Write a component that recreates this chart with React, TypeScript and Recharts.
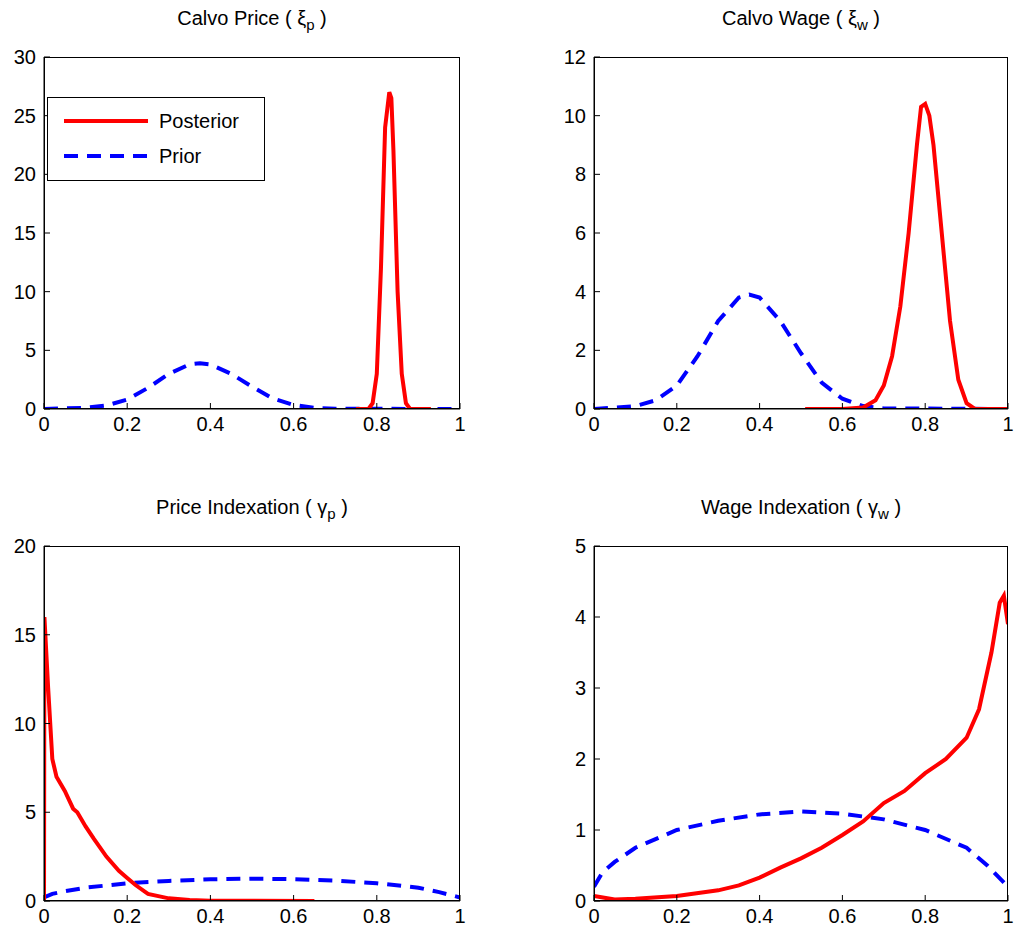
import React from "react";
import { LineChart, Line, XAxis, YAxis } from "recharts";

const xTicks = [0, 0.2, 0.4, 0.6, 0.8, 1];
const xTickLabels = ["0", "0.2", "0.4", "0.6", "0.8", "1"];

const priorCalvoX = [0, 0.1, 0.15, 0.2, 0.25, 0.3, 0.35, 0.375, 0.4, 0.45, 0.5, 0.55, 0.6, 0.65, 0.7, 1];
const priorCalvoY = [0, 0.1, 0.3, 0.8, 1.8, 3.0, 3.8, 3.9, 3.8, 3.0, 1.9, 0.9, 0.35, 0.1, 0.02, 0];

const postPriceX = [0.75, 0.78, 0.79, 0.8, 0.81, 0.82, 0.83, 0.835, 0.84, 0.85, 0.86, 0.87, 0.88, 0.93];
const postPriceY = [0, 0, 0.5, 3, 12, 24, 27, 26.5, 22, 10, 3, 0.5, 0, 0];

const postWageX = [0.51, 0.6, 0.65, 0.68, 0.7, 0.72, 0.74, 0.76, 0.78, 0.79, 0.8, 0.81, 0.82, 0.84, 0.86, 0.88, 0.9, 0.92, 1];
const postWageY = [0, 0, 0.05, 0.3, 0.8, 1.8, 3.5, 6, 9, 10.3, 10.4, 10, 9, 6, 3, 1, 0.2, 0, 0];

const priorIndexX = [0, 0.02, 0.05, 0.1, 0.2, 0.3, 0.4, 0.5, 0.6, 0.7, 0.8, 0.9, 0.95, 1];
const priorIndexY = [0.2, 0.4, 0.55, 0.75, 1.0, 1.13, 1.22, 1.26, 1.23, 1.15, 1.0, 0.75, 0.5, 0.2];

const postPIndX = [0, 0.001, 0.01, 0.02, 0.03, 0.05, 0.07, 0.08, 0.1, 0.12, 0.15, 0.18, 0.2, 0.22, 0.25, 0.3, 0.35, 0.4, 0.65];
const postPIndY = [0, 16, 12, 8, 7, 6.2, 5.2, 5, 4.2, 3.5, 2.5, 1.7, 1.3, 0.9, 0.4, 0.15, 0.05, 0.02, 0];

const postWIndX = [0, 0.05, 0.1, 0.2, 0.3, 0.35, 0.4, 0.45, 0.5, 0.55, 0.6, 0.65, 0.7, 0.75, 0.8, 0.85, 0.9, 0.93, 0.96, 0.98, 0.99, 1];
const postWIndY = [0.07, 0.02, 0.03, 0.07, 0.15, 0.22, 0.33, 0.47, 0.6, 0.75, 0.93, 1.12, 1.38, 1.55, 1.8, 2.0, 2.3, 2.7, 3.5, 4.2, 4.3, 3.9];

const zip = (xs: number[], ys: number[]) => xs.map((x, i) => ({ x, y: ys[i] }));
const FONT = "'Liberation Sans', Arial, sans-serif";

function Panel(props: any) {
  const { left, top, width, height, margin, yTicks, yMax, post, prior, title, sub } = props;
  const tick = { fill: "#000", fontSize: 20, fontFamily: FONT };
  const pl = margin.left + 36;
  const pw = width - pl - margin.right;
  const ph = height - margin.top - margin.bottom - 30;
  return (
    <div style={{ position: "absolute", left, top, width, height }}>
      <div style={{ position: "absolute", left: pl, width: pw, top: margin.top - 50, textAlign: "center", fontFamily: FONT, fontSize: 20 }}>
        {title} ( <span>{sub[0]}</span><sub style={{ fontSize: 15 }}>{sub[1]}</sub> )
      </div>
      <LineChart width={width} height={height} margin={margin}>
        <XAxis xAxisId="b" type="number" dataKey="x" domain={[0, 1]} ticks={xTicks} tickFormatter={(v: number) => xTickLabels[xTicks.indexOf(v)] ?? String(v)} tick={tick} tickSize={-6} tickMargin={14} height={30} stroke="#000" interval={0} allowDataOverflow />
        <YAxis yAxisId="l" type="number" domain={[0, yMax]} ticks={yTicks} tick={tick} tickSize={-6} tickMargin={14} width={36} stroke="#000" interval={0} allowDataOverflow />
        <Line xAxisId="b" yAxisId="l" data={prior} dataKey="y" stroke="#0000ff" strokeWidth={4} strokeDasharray="14 9" dot={false} isAnimationActive={false} />
        <Line xAxisId="b" yAxisId="l" data={post} dataKey="y" stroke="#ff0000" strokeWidth={4} dot={false} isAnimationActive={false} />
      </LineChart>
      <div style={{ position: "absolute", left: pl, top: margin.top, width: pw, height: ph, border: "1px solid #000", boxSizing: "border-box", pointerEvents: "none" }} />
    </div>
  );
}

export default function App() {
  return (
    <div style={{ position: "absolute", left: 0, top: 0, width: 1016, height: 944, background: "#fff" }}>
      <Panel left={0} top={0} width={500} height={450} margin={{ top: 57, left: 8, right: 40, bottom: 11 }}
        yTicks={[0, 5, 10, 15, 20, 25, 30]} yMax={30} post={zip(postPriceX, postPriceY)} prior={zip(priorCalvoX, priorCalvoY)} title="Calvo Price" sub={["ξ", "p"]} />
      <Panel left={550} top={0} width={466} height={450} margin={{ top: 57, left: 8, right: 8, bottom: 11 }}
        yTicks={[0, 2, 4, 6, 8, 10, 12]} yMax={12} post={zip(postWageX, postWageY)} prior={zip(priorCalvoX, priorCalvoY)} title="Calvo Wage" sub={["ξ", "w"]} />
      <Panel left={0} top={490} width={500} height={450} margin={{ top: 56, left: 8, right: 40, bottom: 9 }}
        yTicks={[0, 5, 10, 15, 20]} yMax={20} post={zip(postPIndX, postPIndY)} prior={zip(priorIndexX, priorIndexY)} title="Price Indexation" sub={["γ", "p"]} />
      <Panel left={550} top={490} width={466} height={450} margin={{ top: 56, left: 8, right: 8, bottom: 9 }}
        yTicks={[0, 1, 2, 3, 4, 5]} yMax={5} post={zip(postWIndX, postWIndY)} prior={zip(priorIndexX, priorIndexY)} title="Wage Indexation" sub={["γ", "w"]} />
      <div style={{ position: "absolute", left: 47, top: 97, width: 216, height: 82, border: "1px solid #000", background: "#fff", fontFamily: FONT, fontSize: 20 }}>
        <svg width={216} height={82} style={{ position: "absolute", left: 0, top: 0 }}>
          <line x1={16} x2={100} y1={23} y2={23} stroke="#ff0000" strokeWidth={4} />
          <line x1={16} x2={100} y1={58} y2={58} stroke="#0000ff" strokeWidth={4} strokeDasharray="14 9" />
          <text x={111} y={30} fontSize={20} fontFamily={FONT}>Posterior</text>
          <text x={111} y={65} fontSize={20} fontFamily={FONT}>Prior</text>
        </svg>
      </div>
    </div>
  );
}
